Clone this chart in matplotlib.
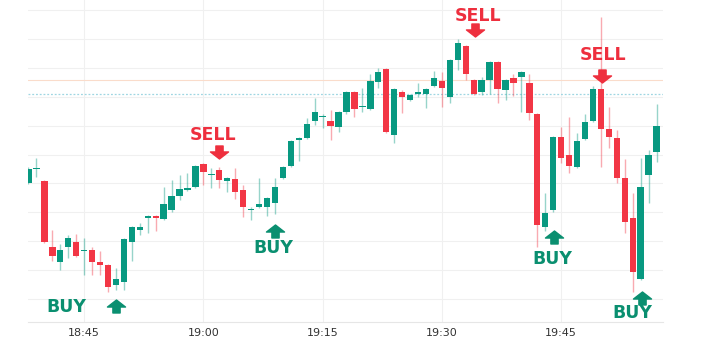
import numpy as np
import matplotlib
matplotlib.use("Agg")
import matplotlib.pyplot as plt
from matplotlib.path import Path

# ---------------- data (1-minute candles starting 18:38) ----------------
opens = [2013.7, 2015.1, 2013.9, 2007.3, 2005.8, 2007.3, 2007.8, 2006.9, 2007.0, 2005.8,
         2005.5, 2003.5, 2003.8, 2007.8, 2009.0, 2010.2, 2010.4, 2010.1, 2011.0, 2012.4,
         2013.0, 2013.3, 2015.6, 2014.5, 2015.0, 2013.9, 2014.1, 2013.0, 2011.0, 2011.3,
         2011.3, 2011.7, 2014.2, 2015.4, 2018.0, 2018.2, 2019.9, 2020.3, 2019.9, 2019.3,
         2020.8, 2022.8, 2021.3, 2021.1, 2023.8, 2025.1, 2018.5, 2022.8, 2022.0, 2022.6,
         2022.6, 2023.4, 2023.9, 2022.3, 2026.0, 2027.4, 2024.0, 2022.8, 2024.0, 2025.8,
         2023.0, 2024.2, 2024.3, 2023.7, 2020.6, 2009.3, 2011.0, 2018.3, 2016.5, 2015.3,
         2018.1, 2019.9, 2023.1, 2019.1, 2018.2, 2014.2, 2010.2, 2004.1, 2014.5, 2016.8]
highs = [2015.3, 2016.2, 2014.0, 2009.0, 2007.6, 2008.5, 2008.6, 2008.2, 2007.3, 2006.9,
         2005.6, 2005.2, 2008.2, 2009.4, 2009.7, 2010.5, 2010.5, 2013.3, 2014.0, 2014.5,
         2014.7, 2015.5, 2015.7, 2015.2, 2015.3, 2014.3, 2015.2, 2013.5, 2011.3, 2014.2,
         2012.3, 2014.2, 2015.4, 2018.0, 2018.3, 2020.2, 2022.2, 2020.6, 2021.0, 2020.9,
         2022.9, 2022.9, 2023.2, 2024.6, 2025.2, 2025.2, 2023.2, 2023.0, 2022.6, 2023.7,
         2023.2, 2024.9, 2024.8, 2026.1, 2028.1, 2027.5, 2024.1, 2024.3, 2025.9, 2025.9,
         2024.1, 2024.6, 2024.9, 2024.6, 2020.7, 2012.7, 2018.4, 2019.3, 2020.3, 2018.7,
         2020.6, 2023.4, 2030.3, 2021.3, 2019.0, 2016.1, 2012.7, 2016.2, 2017.0, 2021.6]
lows = [2013.6, 2014.3, 2007.7, 2005.9, 2005.0, 2006.2, 2006.3, 2004.5, 2004.5, 2004.5,
        2002.8, 2003.0, 2003.0, 2005.9, 2008.5, 2008.7, 2008.9, 2010.0, 2010.8, 2012.0,
        2012.9, 2013.2, 2013.5, 2013.2, 2013.2, 2012.8, 2012.1, 2010.3, 2010.0, 2011.2,
        2010.4, 2010.6, 2014.1, 2015.3, 2015.9, 2018.1, 2019.5, 2019.2, 2018.0, 2018.8,
        2020.6, 2020.3, 2020.8, 2021.0, 2023.2, 2018.7, 2017.7, 2020.7, 2021.9, 2022.3,
        2021.2, 2023.3, 2021.3, 2021.7, 2025.0, 2024.0, 2022.5, 2022.5, 2022.6, 2021.7,
        2022.0, 2022.4, 2020.8, 2020.0, 2007.3, 2008.9, 2010.8, 2015.7, 2014.7, 2015.2,
        2018.0, 2019.8, 2015.3, 2017.2, 2013.7, 2008.7, 2002.8, 2004.0, 2011.7, 2015.8]
closes = [2015.1, 2015.2, 2007.8, 2006.4, 2007.0, 2008.2, 2006.4, 2007.0, 2005.8, 2005.5,
          2003.3, 2004.1, 2008.1, 2009.3, 2009.3, 2010.4, 2010.2, 2011.6, 2012.4, 2013.1,
          2013.2, 2015.4, 2014.8, 2014.6, 2014.0, 2014.2, 2012.8, 2011.3, 2011.1, 2011.6,
          2012.2, 2013.3, 2015.3, 2017.9, 2018.2, 2019.6, 2020.8, 2020.4, 2019.4, 2020.8,
          2022.8, 2021.1, 2021.4, 2023.9, 2024.8, 2018.8, 2023.1, 2022.3, 2022.5, 2022.8,
          2023.1, 2024.2, 2023.2, 2026.0, 2027.7, 2024.6, 2022.6, 2024.0, 2025.8, 2023.1,
          2024.0, 2023.7, 2024.8, 2020.7, 2009.5, 2010.7, 2018.3, 2016.2, 2015.4, 2017.9,
          2019.8, 2023.1, 2019.1, 2018.3, 2014.2, 2009.8, 2004.8, 2013.3, 2016.5, 2019.4]

tick_idx = [7, 22, 37, 52, 67]
tick_labels = ["18:45", "19:00", "19:15", "19:30", "19:45"]

level_orange = 2024.0
level_blue = 2022.6

signal_labels = ["BUY", "SELL", "BUY", "SELL", "BUY", "SELL", "BUY"]
signal_idx = [11, 24, 31, 56.2, 66.1, 72.1, 77.2]
signal_arrow_price = [2001.45, 2016.85, 2008.9, 2029.0, 2008.35, 2024.4, 2002.2]
signal_text_x = [4.7, 23.2, 30.8, 56.5, 65.9, 72.3, 75.9]
signal_text_price = [2001.3, 2018.5, 2007.2, 2030.4, 2006.1, 2026.5, 2000.7]

# ---------------- style ----------------
GREEN = "#089981"
RED = "#F23645"
BUY_C = "#0a8f70"
SELL_C = "#ee2f3e"

fig = plt.figure(figsize=(7.2, 3.4), dpi=100)
fig.patch.set_facecolor("white")
ax = fig.add_axes([28 / 720, 18 / 340, 635 / 720, 322 / 340])

o = np.array(opens); h = np.array(highs); l = np.array(lows); c = np.array(closes)
x = np.arange(len(o))
up = c >= o
col = np.where(up, GREEN, RED)

# grid
for gy in np.linspace(2002.1, 2031.0, 11):
    ax.axhline(gy, color="#f0f0f0", lw=0.8, zorder=0)
for ti in tick_idx:
    ax.axvline(ti, color="#f0f0f0", lw=0.8, zorder=0)

ax.axhline(level_orange, color="#fadccb", lw=0.8, zorder=0.5)
ax.axhline(level_blue, color="#9fd6e2", lw=0.9, ls=(0, (1.5, 1.5)), zorder=0.5)

# wicks
for xi, hi, lo, cc in zip(x, h, l, col):
    ax.vlines(xi, lo, hi, color=cc, alpha=0.42, lw=1.0, zorder=1)

# bodies
bottom = np.minimum(o, c)
height = np.maximum(np.abs(c - o), 0.13)
ax.bar(x, height, bottom=bottom, width=0.8, color=col, edgecolor="none", zorder=2)

# signal arrows
up_arrow = Path([(0, 0.72), (1, -0.06), (0.4, -0.06), (0.4, -0.72), (-0.4, -0.72),
                 (-0.4, -0.06), (-1, -0.06), (0, 0.72)],
                [Path.MOVETO] + [Path.LINETO] * 6 + [Path.CLOSEPOLY])
down_arrow = Path([(vx, -vy) for vx, vy in up_arrow.vertices], up_arrow.codes)

for lab, si, ap, tx, tp in zip(signal_labels, signal_idx, signal_arrow_price,
                               signal_text_x, signal_text_price):
    colr = BUY_C if lab == "BUY" else SELL_C
    mk = up_arrow if lab == "BUY" else down_arrow
    ax.plot([si], [ap], marker=mk, markersize=13, color=colr, ls="none",
            zorder=5, clip_on=False)
    ax.text(tx, tp, lab, color=colr, fontsize=12.5, fontweight="bold",
            family="DejaVu Sans", ha="center", va="center", zorder=5, clip_on=False)

ax.set_xlim(-0.06, 79.81)
ax.set_ylim(1999.8, 2032.0)
ax.set_xticks(tick_idx)
ax.set_xticklabels(tick_labels, fontsize=8, color="#333333")
ax.tick_params(axis="x", length=0, pad=4.5)
ax.set_yticks([])
for s in ["top", "right", "left"]:
    ax.spines[s].set_visible(False)
ax.spines["bottom"].set_color("#e6e6e6")
ax.spines["bottom"].set_linewidth(0.8)
ax.set_facecolor("white")

fig.savefig("out.png", dpi=100, facecolor="white")
